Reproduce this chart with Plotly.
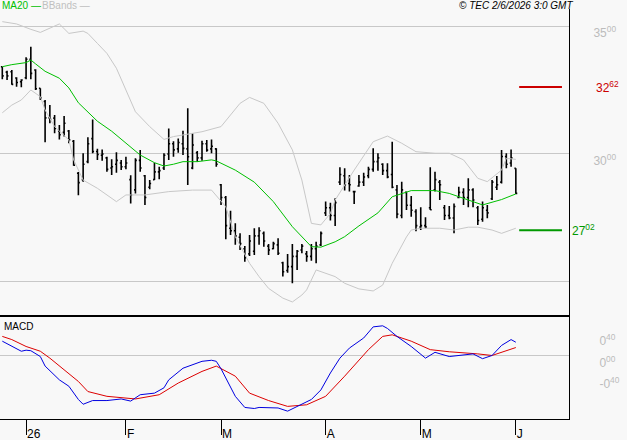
import plotly.graph_objects as go

# ---------------- data (prices) ----------------
opens = [33.41, 33.20, 33.21, 32.97, 32.82, 32.98, 33.70, 33.28, 32.57, 32.05,
         31.41, 31.40, 30.90, 30.85, 30.90, 30.50, 29.25, 29.00, 29.70, 30.60,
         30.10, 29.95, 29.85, 29.45, 29.60, 29.65, 29.50, 29.00, 28.60, 29.75,
         29.15, 28.70, 29.00, 29.30, 29.45, 30.00, 30.40, 30.20, 30.40, 30.20,
         29.45, 30.05, 29.85, 30.40, 30.20, 30.20, 28.80, 28.30, 27.10, 27.00,
         26.75, 26.30, 26.10, 26.20, 26.80, 26.90, 26.40, 26.30, 26.45, 25.75,
         25.45, 25.60, 26.00, 26.25, 26.10, 26.00, 26.30, 26.45, 27.70, 27.90,
         27.60, 28.90, 29.15, 28.85, 28.53, 28.75, 28.90, 29.15, 29.40, 29.70,
         29.60, 29.35, 29.20, 28.60, 27.60, 28.50, 28.00, 27.75, 27.15, 27.20,
         27.90, 28.60, 28.90, 27.90, 27.60, 27.50, 28.30, 28.50, 28.30, 28.60,
         27.90, 27.45, 27.80, 28.25, 28.70, 28.90, 29.90, 29.65, 29.44]
highs = [33.41, 33.25, 33.28, 33.00, 32.92, 33.78, 34.19, 33.31, 32.57, 32.11,
         31.91, 31.52, 31.13, 31.48, 30.94, 30.55, 29.30, 30.03, 30.65, 31.35,
         30.20, 30.18, 29.89, 29.79, 30.07, 29.77, 29.89, 29.17, 29.83, 30.16,
         29.18, 28.98, 29.66, 29.50, 30.03, 31.00, 30.50, 30.61, 30.91, 31.79,
         30.81, 30.12, 30.52, 30.55, 30.57, 30.22, 28.83, 28.36, 27.78, 27.29,
         26.90, 26.41, 26.84, 27.10, 27.14, 26.97, 26.48, 26.57, 26.71, 25.79,
         26.09, 26.48, 26.25, 26.48, 26.21, 26.48, 26.57, 26.97, 28.14, 28.10,
         28.27, 29.48, 29.44, 29.18, 28.53, 29.18, 29.27, 29.50, 30.22, 30.03,
         29.64, 29.64, 30.48, 28.79, 28.92, 28.53, 28.36, 27.84, 27.92, 27.53,
         29.48, 29.31, 28.98, 28.01, 27.97, 28.07, 28.72, 28.66, 29.05, 28.66,
         27.97, 28.14, 28.01, 28.98, 29.14, 30.16, 30.03, 30.18, 29.44]
lows = [32.92, 32.89, 32.70, 32.63, 32.61, 32.92, 32.92, 32.50, 32.11, 30.46,
        31.20, 30.81, 30.57, 30.68, 30.42, 29.54, 28.39, 28.92, 29.64, 30.03,
        29.77, 29.74, 29.31, 29.18, 29.27, 29.37, 29.40, 28.07, 28.46, 29.31,
        28.01, 28.62, 28.98, 29.01, 29.37, 29.77, 29.89, 30.05, 29.96, 28.79,
        29.40, 29.70, 29.74, 30.09, 30.03, 29.50, 28.01, 26.67, 26.84, 26.45,
        26.25, 25.79, 26.02, 26.05, 26.45, 26.38, 26.05, 26.28, 26.05, 25.21,
        25.36, 24.95, 25.47, 26.12, 25.79, 25.83, 25.73, 26.41, 27.58, 27.40,
        27.19, 28.79, 28.57, 28.53, 28.05, 28.72, 28.75, 29.05, 29.31, 29.35,
        29.18, 29.05, 28.66, 27.49, 27.49, 27.81, 27.55, 26.98, 27.03, 27.10,
        27.81, 28.53, 28.20, 27.42, 27.45, 26.90, 28.27, 28.01, 27.92, 27.92,
        27.23, 27.35, 27.49, 28.20, 28.59, 28.85, 29.44, 29.50, 28.44]
closes = [33.05, 33.05, 32.72, 32.79, 32.89, 33.70, 33.15, 32.55, 32.19, 31.41,
          31.36, 31.00, 30.75, 31.20, 30.55, 29.56, 28.88, 29.60, 30.40, 30.10,
          29.98, 30.00, 29.40, 29.50, 29.75, 29.50, 29.65, 28.40, 29.75, 29.45,
          28.30, 28.85, 29.30, 29.35, 29.95, 30.40, 30.16, 30.45, 30.22, 29.89,
          30.35, 29.85, 30.40, 30.15, 30.30, 29.60, 28.30, 27.20, 27.00, 26.80,
          26.50, 25.95, 26.60, 26.80, 27.00, 26.60, 26.25, 26.50, 26.12, 25.40,
          25.60, 26.00, 26.20, 26.40, 26.00, 26.30, 26.40, 26.90, 27.90, 27.60,
          28.10, 29.20, 28.80, 28.80, 28.53, 28.90, 29.10, 29.40, 29.70, 29.85,
          29.35, 29.10, 28.70, 27.65, 28.60, 28.00, 27.80, 27.20, 27.20, 27.15,
          27.82, 29.00, 28.80, 27.60, 27.50, 27.95, 28.50, 28.30, 28.60, 28.20,
          27.40, 27.90, 27.70, 28.90, 28.80, 29.90, 29.60, 29.85, 28.46]

ma20_idx = [0, 2, 5, 6, 7, 9, 12, 14, 16, 18, 20, 23, 26, 29, 32, 34, 36, 38, 41, 44,
            45, 49, 53, 57, 61, 64, 65, 67, 70, 72, 75, 79, 82, 86, 91, 94, 98, 101, 105, 108]
ma20_val = [33.41, 33.49, 33.57, 33.67, 33.52, 33.23, 32.96, 32.58, 32.00, 31.65,
            31.28, 30.89, 30.42, 29.96, 29.66, 29.53, 29.60, 29.70, 29.70, 29.77,
            29.73, 29.37, 28.90, 28.14, 27.16, 26.57, 26.38, 26.36, 26.57, 26.77,
            27.19, 27.70, 28.33, 28.57, 28.57, 28.46, 28.22, 28.01, 28.22, 28.44]

bb_up_idx = [0, 3, 6, 8, 12, 14, 17, 18, 20, 22, 24, 26, 28, 31, 34, 36, 42, 46, 50, 52,
             55, 58, 61, 63, 65, 67, 69, 70, 72, 74, 78, 81, 84, 87, 91, 94, 97, 100, 102,
             105, 106, 108]
bb_up_val = [35.17, 35.08, 34.87, 34.75, 35.08, 34.71, 34.80, 34.71, 34.32, 33.93,
             33.35, 32.50, 31.65, 31.07, 30.57, 30.68, 30.87, 31.07, 31.98, 32.21,
             31.98, 31.20, 30.16, 28.98, 27.29, 27.23, 27.68, 28.20, 28.79, 29.37,
             30.48, 30.70, 30.42, 30.09, 30.03, 30.03, 29.77, 29.05, 28.92, 29.37,
             29.83, 29.79]

bb_lo_idx = [0, 2, 4, 6, 8, 9, 11, 14, 15, 17, 20, 24, 26, 30, 35, 40, 44, 47, 49, 52,
             54, 56, 59, 61, 63, 64, 66, 67, 70, 72, 75, 78, 80, 82, 85, 86, 88, 92, 95,
             98, 100, 103, 105, 108]
bb_lo_val = [31.61, 31.91, 32.11, 32.50, 32.24, 31.72, 31.07, 30.55, 29.77, 28.98,
             28.66, 28.14, 28.40, 28.40, 28.53, 28.59, 28.59, 27.94, 26.77, 25.73,
             25.21, 24.75, 24.37, 24.22, 24.49, 24.69, 25.47, 25.40, 25.21, 24.95,
             24.73, 24.65, 24.88, 25.73, 26.76, 27.03, 27.10, 27.10, 27.03, 27.14,
             27.14, 27.03, 26.90, 27.10]

macd_idx = [0, 2, 4, 5, 6, 8, 9, 12, 14, 16, 17, 19, 22, 25, 27, 29, 32, 34, 35, 38,
            40, 42, 44, 45, 46, 48, 49, 51, 53, 54, 58, 60, 62, 65, 67, 69, 71, 73, 76,
            78, 80, 81, 83, 86, 89, 91, 94, 99, 101, 103, 105, 107, 108]
macd_val = [0.27, 0.17, 0.08, 0.10, 0.09, -0.02, -0.20, -0.46, -0.58, -0.83, -0.92,
            -0.85, -0.85, -0.82, -0.86, -0.74, -0.71, -0.61, -0.46, -0.24, -0.17,
            -0.11, -0.09, -0.11, -0.25, -0.58, -0.77, -0.98, -1.00, -0.98, -0.99,
            -1.05, -0.96, -0.83, -0.65, -0.33, -0.05, 0.14, 0.33, 0.54, 0.56, 0.51,
            0.36, 0.17, -0.05, 0.06, -0.02, 0.03, -0.06, 0.00, 0.19, 0.30, 0.25]

signal_idx = [0, 2, 5, 8, 10, 13, 16, 18, 22, 28, 33, 37, 42, 45, 49, 52, 56, 60, 64,
              68, 72, 77, 80, 82, 86, 90, 94, 100, 103, 108]
signal_val = [0.36, 0.30, 0.17, 0.08, -0.05, -0.27, -0.49, -0.68, -0.77, -0.82, -0.74,
              -0.52, -0.30, -0.20, -0.39, -0.71, -0.85, -0.96, -0.93, -0.77, -0.39,
              0.11, 0.36, 0.39, 0.27, 0.11, 0.07, 0.03, 0.00, 0.15]

month_idx = [5, 26, 46, 68, 88, 108]
month_labels = ["26", "F", "M", "A", "M", "J"]

price_ticks = [25, 30, 35]
price_ticktext = ["", "30<sup>00</sup>", "35<sup>00</sup>"]
macd_ticks = [-0.4, 0.0, 0.4]
macd_ticktext = ["-0<sup>40</sup>", "0<sup>00</sup>", "0<sup>40</sup>"]

resistance = 32.62
support = 27.02
resistance_text = "32<sup>62</sup>"
support_text = "27<sup>02</sup>"

# ---------------- figure ----------------
n = len(opens)
bar_x = list(range(n))
FONT = "Liberation Sans, Arial, sans-serif"
BG = "#f8f8f8"
GRID = "#c8c8c8"
LABEL = "#bcbcbc"

fig = go.Figure()

fig.add_trace(go.Scatter(x=bb_up_idx, y=bb_up_val, mode="lines",
                         line=dict(color="#c8c8c8", width=1), xaxis="x", yaxis="y",
                         hoverinfo="skip"))
fig.add_trace(go.Scatter(x=bb_lo_idx, y=bb_lo_val, mode="lines",
                         line=dict(color="#c8c8c8", width=1), xaxis="x", yaxis="y",
                         hoverinfo="skip"))
fig.add_trace(go.Scatter(x=ma20_idx, y=ma20_val, mode="lines",
                         line=dict(color="#00c000", width=1), xaxis="x", yaxis="y"))
fig.add_trace(go.Ohlc(x=bar_x, open=opens, high=highs, low=lows, close=closes,
                      increasing=dict(line=dict(color="black", width=1.6)),
                      decreasing=dict(line=dict(color="black", width=1.6)),
                      tickwidth=0.3, xaxis="x", yaxis="y"))

# support / resistance levels beyond the last bar
lvl_x = [n - 0.3, n + 8.7]
fig.add_trace(go.Scatter(x=lvl_x, y=[resistance, resistance], mode="lines",
                         line=dict(color="#cc0000", width=2), xaxis="x", yaxis="y"))
fig.add_trace(go.Scatter(x=lvl_x, y=[support, support], mode="lines",
                         line=dict(color="#009900", width=2), xaxis="x", yaxis="y"))

# MACD
fig.add_trace(go.Scatter(x=signal_idx, y=signal_val, mode="lines",
                         line=dict(color="#dd0000", width=1), xaxis="x2", yaxis="y2"))
fig.add_trace(go.Scatter(x=macd_idx, y=macd_val, mode="lines",
                         line=dict(color="#0000e0", width=1), xaxis="x2", yaxis="y2"))

split = 0.2537
xr = [-0.484, 119.18]

fig.update_layout(
    width=627, height=440,
    margin=dict(l=0, r=58, t=9, b=21),
    paper_bgcolor=BG, plot_bgcolor=BG,
    showlegend=False,
    font=dict(family=FONT, size=12, color="black"),
    xaxis=dict(domain=[0, 1], anchor="y", range=xr, showticklabels=False, ticks="",
               showgrid=False, zeroline=False, showline=True, linecolor="black",
               linewidth=2, rangeslider=dict(visible=False), fixedrange=True),
    yaxis=dict(domain=[split, 1], anchor="x", range=[23.711, 35.664], side="right",
               tickmode="array", tickvals=price_ticks, ticktext=price_ticktext,
               showgrid=True, gridcolor=GRID, gridwidth=1, zeroline=False,
               showline=True, linecolor="black", linewidth=1, ticks="",
               tickfont=dict(color=LABEL, size=12, family=FONT),
               ticklabelstandoff=21, ticklabelshift=7),
    xaxis2=dict(domain=[0, 1], anchor="y2", range=xr, matches="x",
                tickmode="array", tickvals=month_idx, ticktext=month_labels,
                ticks="outside", ticklen=15, tickcolor="black", tickwidth=1,
                ticklabelposition="outside right", ticklabelstandoff=4,
                tickfont=dict(color="black", size=12, family=FONT),
                showgrid=False, zeroline=False, showline=True, linecolor="black",
                linewidth=1),
    yaxis2=dict(domain=[0, split], anchor="x2", range=[-1.198, 0.764], side="right",
                tickmode="array", tickvals=macd_ticks, ticktext=macd_ticktext,
                showgrid=False, zeroline=True, zerolinecolor=GRID, zerolinewidth=1,
                showline=True, linecolor="black", linewidth=1, ticks="",
                tickfont=dict(color=LABEL, size=12, family=FONT),
                ticklabelstandoff=27, ticklabelshift=7),
)

fig.add_annotation(text="MA20 <span style='color:#00c000'>—</span>", xref="paper", yref="paper",
                   x=0, y=1, yshift=4, xanchor="left", yanchor="middle", showarrow=False,
                   font=dict(color="#00c000", size=10, family=FONT))
fig.add_annotation(text="BBands —", xref="paper", yref="paper",
                   x=0, y=1, xshift=40, yshift=4, xanchor="left", yanchor="middle",
                   showarrow=False, font=dict(color="#c0c0c0", size=10, family=FONT))
fig.add_annotation(text="<i>© TEC 2/6/2026 3:0 GMT</i>", xref="paper", yref="paper",
                   x=1, xshift=6, y=1, yshift=4, xanchor="right", yanchor="middle",
                   showarrow=False, font=dict(color="black", size=10, family=FONT))
fig.add_annotation(text="MACD", xref="paper", yref="paper", x=0, xshift=2, y=split,
                   yshift=-12, xanchor="left", yanchor="middle", showarrow=False,
                   font=dict(color="black", size=10, family=FONT))
fig.add_annotation(text=resistance_text, xref="paper", yref="y", x=1, xshift=25,
                   y=resistance, xanchor="left", yanchor="middle", showarrow=False,
                   font=dict(color="#cc0000", size=12, family=FONT))
fig.add_annotation(text=support_text, xref="paper", yref="y", x=1, xshift=1,
                   y=support, xanchor="left", yanchor="middle", showarrow=False,
                   font=dict(color="#009900", size=12, family=FONT))

fig.write_html("out.html", config={"displayModeBar": False})
